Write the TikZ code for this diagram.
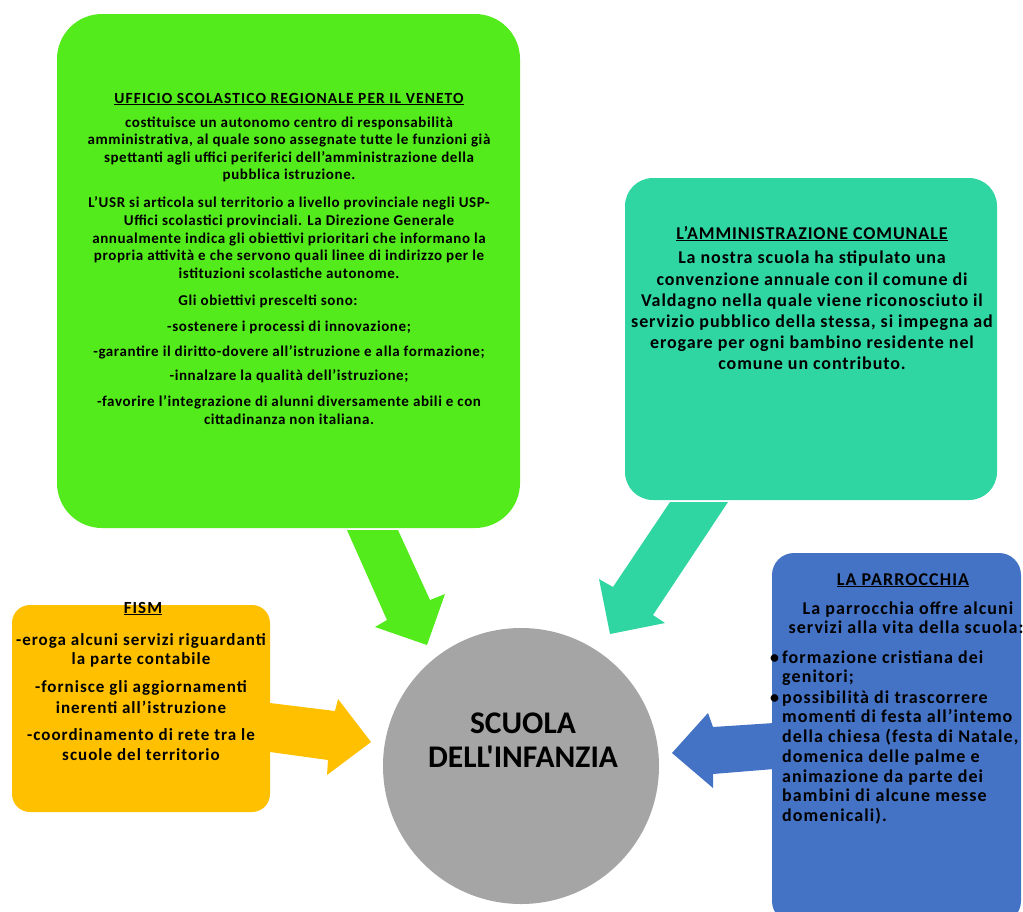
\documentclass[tikz,border=0pt]{standalone}
\usepackage{fontspec}
\setmainfont{Carlito}
\newfontfamily\circfont{Carlito}
\definecolor{cgreen}{HTML}{54EB1C}
\definecolor{cteal}{HTML}{2FD6A1}
\definecolor{corange}{HTML}{FFC000}
\definecolor{cblue}{HTML}{4472C4}
\definecolor{cgray}{HTML}{A5A5A5}
\tikzset{
  panel/.style={anchor=north west, inner sep=0pt, outer sep=0pt},
  gtxt/.style={anchor=base, inner sep=0pt, font=\fontsize{15}{17}\selectfont\bfseries\addfontfeatures{LetterSpace=4}},
  gtitle/.style={anchor=base, inner sep=0pt, font=\fontsize{15.5}{17}\selectfont\bfseries\addfontfeatures{LetterSpace=7}},
  ttxt/.style={anchor=base, inner sep=0pt, font=\fontsize{18}{21}\selectfont\bfseries\addfontfeatures{LetterSpace=5}},
  ftxt/.style={anchor=base, inner sep=0pt, font=\fontsize{17}{20}\selectfont\bfseries\addfontfeatures{LetterSpace=6}},
  ptxt/.style={anchor=base, inner sep=0pt, font=\fontsize{18}{20}\selectfont\bfseries\addfontfeatures{LetterSpace=6}},
  ctxt/.style={anchor=base, inner sep=0pt, font=\circfont\fontsize{31.5}{34}\selectfont\bfseries},
}
\begin{document}
\begin{tikzpicture}[x=1pt,y=-1pt]
\path[use as bounding box, clip] (0,0) rectangle (1023,911);
\fill[white] (0,0) rectangle (1023,911);

% panels
\node[panel, fill=cgreen, rounded corners=45pt, minimum width=463pt, minimum height=514pt] (usr) at (57,14) {};
\node[panel, fill=cteal, rounded corners=28pt, minimum width=372pt, minimum height=322pt] (com) at (625,178) {};
\node[panel, fill=corange, rounded corners=18pt, minimum width=258pt, minimum height=207pt] (fism) at (12,605) {};
\node[panel, fill=cblue, rounded corners=22pt, minimum width=249pt, minimum height=370pt] (par) at (772,553) {};
\node[circle, fill=cgray, minimum size=276pt, inner sep=0pt] (scuola) at (521,766) {};

% block arrows
\fill[cgreen] (347,530) -- (398,530) -- (430,600) -- (445,594) -- (427,645) -- (375,627) -- (387,620) -- cycle;
\fill[cteal] (670,502) -- (728,502) -- (653,615) -- (665,623) -- (610,634) -- (599,579) -- (613,587) -- cycle;
\fill[corange] (270,703) -- (335,711) -- (338,699) -- (371,742) -- (327,775) -- (328,760) -- (270,752) -- cycle;
\fill[cblue] (774,723) -- (713,727) -- (708,713) -- (672,753) -- (713,788) -- (713,774) -- (774,769) -- cycle;

% USR text
\node[gtitle] (usrT) at (289,103) {\underline{UFFICIO SCOLASTICO REGIONALE PER IL VENETO}};
\foreach \yy/\xx/\t [count=\i] in {
 127/289/{costituisce un autonomo centro di responsabilità},
 144.5/289/{amministrativa, al quale sono assegnate tutte le funzioni già},
 162/289/{spettanti agli uffici periferici dell’amministrazione della},
 179/289/{pubblica  istruzione.},
 207/289/{L’USR si articola sul territorio a livello provinciale negli USP-},
 225/289/{Uffici scolastici provinciali. La Direzione Generale},
 243/289/{annualmente indica gli obiettivi prioritari che informano la},
 260.5/289/{propria attività e che servono quali linee di indirizzo per le},
 278/289/{istituzioni scolastiche autonome.},
 305/268/{Gli obiettivi prescelti sono:},
 331/289/{-sostenere i processi di innovazione;},
 356/289/{-garantire il diritto-dovere all’istruzione e alla formazione;},
 380/289/{-innalzare la qualità dell’istruzione;},
 406/289/{-favorire l’integrazione di alunni diversamente abili e con},
 424/289/{cittadinanza non italiana.}}
 \node[gtxt] (g\i) at (\xx,\yy) {\t};

% Comune text
\node[ttxt] (comT) at (812,239) {\underline{L’AMMINISTRAZIONE COMUNALE}};
\foreach \yy/\t [count=\i] in {
 263/{La nostra scuola ha stipulato una},
 285/{convenzione annuale con il comune di},
 306/{Valdagno nella quale viene riconosciuto il},
 327/{servizio pubblico della stessa, si impegna ad},
 348/{erogare per ogni bambino residente nel},
 369/{comune un contributo.}}
 \node[ttxt] (t\i) at (812,\yy) {\t};

% FISM text
\node[ftxt] (fismT) at (143,613) {\underline{FISM}};
\foreach \yy/\t [count=\i] in {
 645/{-eroga alcuni servizi riguardanti},
 664/{la parte contabile},
 692/{-fornisce gli aggiornamenti},
 713/{inerenti all’istruzione},
 740/{-coordinamento di rete tra le},
 760/{scuole del territorio}}
 \node[ftxt] (f\i) at (141,\yy) {\t};

% Parrocchia text
\node[ptxt] (parT) at (903,585) {\underline{LA PARROCCHIA}};
\node[ptxt] (p1) at (908,614) {La parrocchia offre alcuni};
\node[ptxt] (p2) at (906,633) {servizi alla vita della scuola:};
\foreach \yy/\t [count=\i] in {
 663/{\llap{\textbullet\,}formazione cristiana dei},
 682/{genitori;},
 703/{\llap{\textbullet\,}possibilità di trascorrere},
 722/{momenti di festa all’intemo},
 742/{della chiesa (festa di Natale,},
 762/{domenica delle palme e},
 782/{animazione da parte dei},
 801/{bambini di alcune messe},
 821/{domenicali).}}
 \node[ptxt, anchor=base west] (q\i) at (782,\yy) {\t};

% circle text
\node[ctxt] (c1) at (523,733) {SCUOLA};
\node[ctxt] (c2) at (523,767) {DELL'INFANZIA};
\end{tikzpicture}
\end{document}
